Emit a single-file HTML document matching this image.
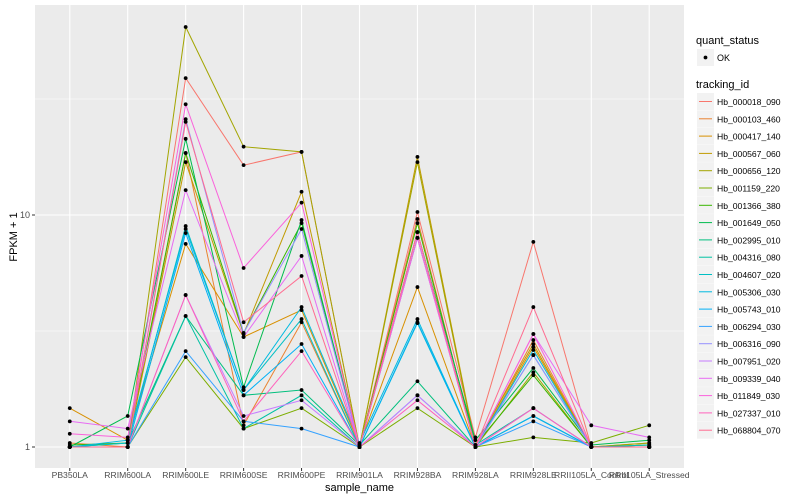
<!DOCTYPE html>
<html><head><meta charset="utf-8"><style>
body{margin:0;background:#fff;font-family:"Liberation Sans",sans-serif;}
svg{display:block}
</style></head><body>
<svg id="chart" width="800" height="500" xmlns="http://www.w3.org/2000/svg"></svg>
<script>
const categories=["PB350LA","RRIM600LA","RRIM600LE","RRIM600SE","RRIM600PE","RRIM901LA","RRIM928BA","RRIM928LA","RRIM928LE","RRII105LA_Control","RRII105LA_Stressed"];
const seriesNames=["Hb_000018_090","Hb_000103_460","Hb_000417_140","Hb_000567_060","Hb_000656_120","Hb_001159_220","Hb_001366_380","Hb_001649_050","Hb_002995_010","Hb_004316_080","Hb_004607_020","Hb_005306_030","Hb_005743_010","Hb_006294_030","Hb_006316_090","Hb_007951_020","Hb_009339_040","Hb_011849_030","Hb_027337_010","Hb_068804_070"];
const colors=["#F8766D","#EA8331","#D89000","#C09B00","#A3A500","#7CAE00","#39B600","#00BB4E","#00BF7D","#00C1A3","#00BFC4","#00BAE0","#00B0F6","#35A2FF","#9590FF","#C77CFF","#E76BF3","#FA62DB","#FF62BC","#FF6C91"];
const s00=[1.0,1.0,38.9,16.4,18.7,1.0,10.3,1.1,7.66,1.0,1.0];
const s01=[1.04,1.0,18.5,1.24,3.45,1.0,9.61,1.0,2.89,1.0,1.02];
const s02=[1.47,1.07,7.51,2.98,3.89,1.02,4.89,1.0,2.70,1.0,1.04];
const s03=[1.0,1.0,16.9,3.07,12.6,1.0,17.8,1.02,2.78,1.0,1.0];
const s04=[1.0,1.0,64.6,19.7,18.7,1.0,16.9,1.0,2.10,1.0,1.04];
const s05=[1.0,1.0,2.44,1.20,1.47,1.0,1.47,1.0,1.10,1.04,1.24];
const s06=[1.02,1.04,18.5,3.10,9.23,1.0,9.23,1.02,2.04,1.0,1.02];
const s07=[1.0,1.36,21.3,1.81,9.51,1.0,8.44,1.07,2.19,1.02,1.07];
const s08=[1.0,1.04,3.67,1.67,1.76,1.02,1.92,1.0,1.36,1.0,1.0];
const s09=[1.0,1.0,3.67,1.20,1.67,1.0,7.97,1.02,1.47,1.0,1.0];
const s10=[1.0,1.04,8.96,1.76,3.56,1.0,3.42,1.0,2.49,1.0,1.02];
const s11=[1.0,1.07,8.70,1.76,4.01,1.04,3.56,1.0,2.62,1.0,1.0];
const s12=[1.0,1.0,8.36,1.67,2.78,1.0,3.45,1.0,1.36,1.0,1.0];
const s13=[1.0,1.0,2.59,1.29,1.20,1.0,1.67,1.0,1.29,1.0,1.0];
const s14=[1.0,1.0,25.9,3.10,8.70,1.0,7.97,1.0,2.49,1.0,1.0];
const s15=[1.0,1.0,4.52,1.36,1.59,1.0,1.67,1.0,1.47,1.0,1.0];
const s16=[1.29,1.20,12.8,2.98,6.66,1.0,8.44,1.0,3.07,1.24,1.10];
const s17=[1.14,1.10,30.0,5.91,11.3,1.0,7.97,1.0,3.07,1.0,1.0];
const s18=[1.0,1.0,4.52,1.29,2.59,1.0,1.59,1.0,1.47,1.0,1.0];
const s19=[1.0,1.0,25.2,3.45,5.46,1.0,8.44,1.0,4.01,1.0,1.0];
const seriesValues=[s00,s01,s02,s03,s04,s05,s06,s07,s08,s09,s10,s11,s12,s13,s14,s15,s16,s17,s18,s19];
const yTicks=[1,10];
const yMinor=[Math.sqrt(10),Math.sqrt(1000)];

const NS="http://www.w3.org/2000/svg";
const svg=document.getElementById('chart');
const P={l:35,r:684,t:5,b:468};
const step=(P.r-P.l)/(categories.length-1+1.2);
function xPos(i){return P.l+step*0.6+i*step;}
function yPos(v){return 447-232*Math.log10(v);}
function mk(tag,attrs,parent){const e=document.createElementNS(NS,tag);for(const k in attrs)e.setAttribute(k,attrs[k]);(parent||svg).appendChild(e);return e;}

const bg=mk('rect',{x:P.l,y:P.t,width:P.r-P.l,height:P.b-P.t,fill:'#EBEBEB'});


yMinor.forEach(v=>{const l=mk('line',{x1:P.l,x2:P.r,y1:yPos(v),y2:yPos(v),stroke:'#fff','stroke-width':0.6});

});
yTicks.forEach(v=>{const l=mk('line',{x1:P.l,x2:P.r,y1:yPos(v),y2:yPos(v),stroke:'#fff','stroke-width':1.1});


const tk=mk('line',{x1:P.l-3,x2:P.l,y1:yPos(v),y2:yPos(v),stroke:'#333','stroke-width':1});


const t=mk('text',{x:P.l-5,y:yPos(v)+3,'text-anchor':'end','font-size':9,fill:'#4D4D4D'});t.textContent=String(v);

});
categories.forEach((c,i)=>{const x=xPos(i);
const l=mk('line',{x1:x,x2:x,y1:P.t,y2:P.b,stroke:'#fff','stroke-width':1.1});


const tk=mk('line',{x1:x,x2:x,y1:P.b,y2:P.b+3,stroke:'#333','stroke-width':1});


const t=mk('text',{x:x,y:P.b+10,'text-anchor':'middle','font-size':8.6,fill:'#4D4D4D'});t.textContent=c;

});
seriesValues.forEach((vals,si)=>{
const pts=vals.map((v,i)=>xPos(i).toFixed(1)+','+yPos(v).toFixed(1)).join(' ');
const pl=mk('polyline',{points:pts,fill:'none',stroke:colors[si],'stroke-width':1});

});
seriesValues.forEach((vals,si)=>{vals.forEach((v,i)=>{
const c=mk('circle',{cx:xPos(i),cy:yPos(v),r:1.9,fill:'#000'});

});});
const yt=mk('text',{x:0,y:0,transform:'translate(17,237) rotate(-90)','text-anchor':'middle','font-size':11,fill:'#000'});yt.textContent='FPKM + 1';


const xt=mk('text',{x:(P.l+P.r)/2,y:491,'text-anchor':'middle','font-size':11,fill:'#000'});xt.textContent='sample_name';


// legend
const lg=mk('g',{});


const qt=mk('text',{x:696,y:44,'font-size':11,fill:'#000'},lg);qt.textContent='quant_status';


const okb=mk('rect',{x:697,y:49,width:17,height:17,fill:'#F2F2F2'},lg);


mk('circle',{cx:705.5,cy:57.5,r:1.9,fill:'#000'},lg);
const okt=mk('text',{x:717,y:61,'font-size':9,fill:'#000'},lg);okt.textContent='OK';


const tt=mk('text',{x:696,y:88,'font-size':11,fill:'#000'},lg);tt.textContent='tracking_id';


seriesNames.forEach((n,i)=>{const y=93+i*17.3;
const g=mk('g',{},lg);


mk('rect',{x:697,y:y,width:17,height:17,fill:'#F2F2F2'},g);
mk('line',{x1:699,x2:712,y1:y+8.5,y2:y+8.5,stroke:colors[i],'stroke-width':1},g);
const t=mk('text',{x:717,y:y+12,'font-size':8.6,fill:'#000'},g);t.textContent=n;});
</script>
</body></html>
